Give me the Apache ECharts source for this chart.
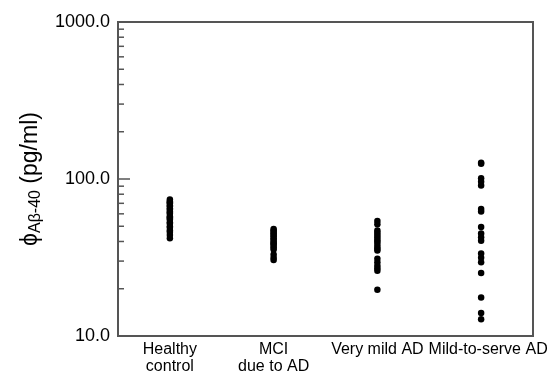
<!DOCTYPE html>
<html>
<head>
<meta charset="utf-8">
<script src="https://cdn.jsdelivr.net/npm/echarts@6/dist/echarts.min.js"></script>
<style>html,body{margin:0;padding:0;background:#fff}#c{width:559px;height:377px}</style>
</head>
<body>
<div id="c"></div>
<script>
const categories = ['Healthy\ncontrol', 'MCI\ndue to AD', 'Very mild AD', 'Mild-to-serve AD'];
const healthyControl = [74, 72, 71, 70, 68, 67, 65, 64, 62, 61, 60, 58, 57, 56, 55, 53, 52, 50, 49, 47, 46, 44, 42];
const mciDueToAD = [48, 47, 46, 45, 44, 43, 42, 41, 40, 39, 38.5, 37.5, 36.5, 35.5, 33, 31.5, 30.5];
const veryMildAD = [54, 51.5, 47, 45.5, 44, 42.5, 41, 40, 38.5, 37, 36, 35, 31, 29.5, 28, 27, 26, 19.7];
const mildToSevereAD = [127, 125, 101, 96, 91, 64.5, 62, 49.5, 45, 42.5, 40.5, 33.5, 31.5, 29.5, 25.2, 17.6, 14, 12.8];
const yTicks = [10, 100, 1000];
const yMinorTicks = [20, 30, 40, 50, 60, 70, 80, 90, 200, 300, 400, 500, 600, 700, 800, 900];

const groups = [healthyControl, mciDueToAD, veryMildAD, mildToSevereAD];
const font = 'Liberation Sans, Arial, sans-serif';
const axisColor = '#555';

const chart = echarts.init(document.getElementById('c'), null, {renderer: 'canvas'});
const series = groups.map((vals, i) => ({
  type: 'scatter',
  xAxisIndex: 0,
  yAxisIndex: 0,
  symbol: 'circle',
  symbolSize: 6.5,
  itemStyle: {color: '#000', opacity: 1},
  data: vals.map(v => [i, v]),
  z: 5
}));
series.push({
  type: 'custom',
  xAxisIndex: 1,
  yAxisIndex: 0,
  data: yMinorTicks.map(v => [0, v]),
  renderItem: function (params, api) {
    const p = api.coord([0, api.value(1)]);
    return {
      type: 'line',
      shape: {x1: p[0], y1: p[1], x2: p[0] + 6, y2: p[1]},
      style: {stroke: axisColor, lineWidth: 1.5}
    };
  },
  silent: true,
  z: 4
});

const xData = categories.map((c, i) => i === categories.length - 1
  ? {value: c, textStyle: {padding: [0, 0, 0, 14]}}
  : c);

chart.setOption({
  animation: false,
  backgroundColor: '#fff',
  grid: {left: 118, right: 26, top: 22, bottom: 41, show: true, borderColor: axisColor, borderWidth: 2, backgroundColor: 'transparent'},
  xAxis: [{
    type: 'category',
    data: xData,
    boundaryGap: true,
    axisLine: {lineStyle: {color: axisColor, width: 2}},
    axisTick: {inside: true, alignWithLabel: true, length: 8, lineStyle: {color: '#333', width: 1.5}},
    axisLabel: {color: '#000', fontSize: 16, fontFamily: font, lineHeight: 17, margin: 5, interval: 0}
  }, {
    type: 'value', min: 0, max: 1, show: false
  }],
  yAxis: [{
    type: 'log',
    logBase: 10,
    min: 10,
    max: 1000,
    axisLine: {show: true, lineStyle: {color: axisColor, width: 2}},
    axisTick: {show: true, inside: true, length: 12, lineStyle: {color: axisColor, width: 1.5}},
    splitLine: {show: false},
    axisLabel: {
      color: '#000', fontSize: 18, fontFamily: font, margin: 8,
      formatter: v => (yTicks.indexOf(Math.round(v)) >= 0 ? Math.round(v).toFixed(1) : '')
    },
    name: '{m|ϕ}{s|Aβ-40}{m| (pg/ml)}',
    nameLocation: 'middle',
    nameRotate: 90,
    nameGap: 72,
    nameTextStyle: {
      fontFamily: font,
      color: '#000',
      rich: {
        m: {fontSize: 23, fontFamily: font, color: '#000', lineHeight: 27, verticalAlign: 'middle'},
        s: {fontSize: 16, fontFamily: font, color: '#000', lineHeight: 27, verticalAlign: 'bottom', padding: [8, 0, 0, 0]}
      }
    }
  }],
  series: series
});
</script>
</body>
</html>
